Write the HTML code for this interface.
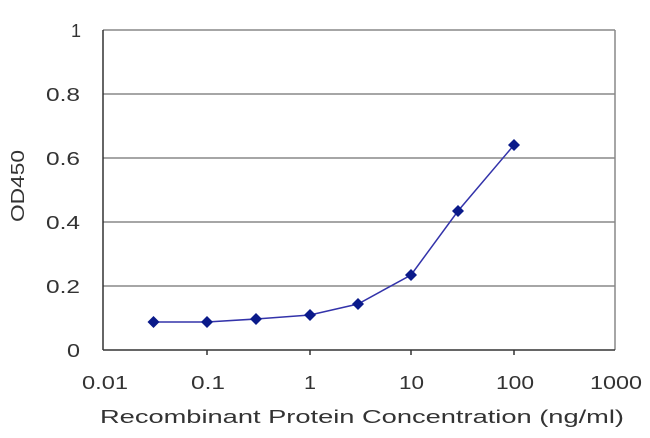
<!DOCTYPE html>
<html><head><style>body{margin:0;background:#fff}</style></head><body>
<svg width="650" height="433" xmlns="http://www.w3.org/2000/svg" font-family="Liberation Sans, Arial, sans-serif">
<rect width="650" height="433" fill="#fff"/>
<g stroke="#888" stroke-width="1.5">
<line x1="103" y1="30" x2="615" y2="30"/>
<line x1="103" y1="94" x2="615" y2="94"/>
<line x1="103" y1="158" x2="615" y2="158"/>
<line x1="103" y1="222" x2="615" y2="222"/>
<line x1="103" y1="286" x2="615" y2="286"/>
<line x1="615" y1="30" x2="615" y2="350"/>
</g>
<g stroke="#333" stroke-width="1.5">
<line x1="103" y1="30" x2="103" y2="350"/>
<line x1="103" y1="350" x2="615" y2="350"/>
<line x1="207" y1="350" x2="207" y2="355"/>
<line x1="310" y1="350" x2="310" y2="355"/>
<line x1="411" y1="350" x2="411" y2="355"/>
<line x1="514" y1="350" x2="514" y2="355"/>
</g>
<g font-size="18" fill="#333" lengthAdjust="spacingAndGlyphs">
<text x="71" y="37" textLength="10">1</text>
<text x="46" y="101" textLength="34" lengthAdjust="spacingAndGlyphs">0.8</text>
<text x="46" y="165" textLength="34" lengthAdjust="spacingAndGlyphs">0.6</text>
<text x="46" y="229" textLength="34" lengthAdjust="spacingAndGlyphs">0.4</text>
<text x="46" y="293" textLength="34" lengthAdjust="spacingAndGlyphs">0.2</text>
<text x="67" y="357" textLength="13" lengthAdjust="spacingAndGlyphs">0</text>
<text x="82" y="389" textLength="46" lengthAdjust="spacingAndGlyphs">0.01</text>
<text x="191" y="389" textLength="34" lengthAdjust="spacingAndGlyphs">0.1</text>
<text x="304" y="389" textLength="12" lengthAdjust="spacingAndGlyphs">1</text>
<text x="399" y="389" textLength="25" lengthAdjust="spacingAndGlyphs">10</text>
<text x="496" y="389" textLength="38" lengthAdjust="spacingAndGlyphs">100</text>
<text x="590" y="389" textLength="52" lengthAdjust="spacingAndGlyphs">1000</text>
<text x="100" y="423" textLength="524" lengthAdjust="spacingAndGlyphs">Recombinant Protein Concentration (ng/ml)</text>
</g>
<text transform="translate(24,222) rotate(-90)" font-size="18" fill="#333" textLength="72" lengthAdjust="spacingAndGlyphs">OD450</text>
<polyline fill="none" stroke="#3333aa" stroke-width="1.5" points="153.5,322 207,322 256,319 310,315 358,304 411,275 458,211 514,145"/>
<g fill="#0a1a8a">
<path d="M153.5,316l6,6l-6,6l-6,-6z"/><path d="M207,316l6,6l-6,6l-6,-6z"/>
<path d="M256,313l6,6l-6,6l-6,-6z"/><path d="M310,309l6,6l-6,6l-6,-6z"/>
<path d="M358,298l6,6l-6,6l-6,-6z"/><path d="M411,269l6,6l-6,6l-6,-6z"/>
<path d="M458,205l6,6l-6,6l-6,-6z"/><path d="M514,139l6,6l-6,6l-6,-6z"/>
</g>
</svg>
</body></html>
